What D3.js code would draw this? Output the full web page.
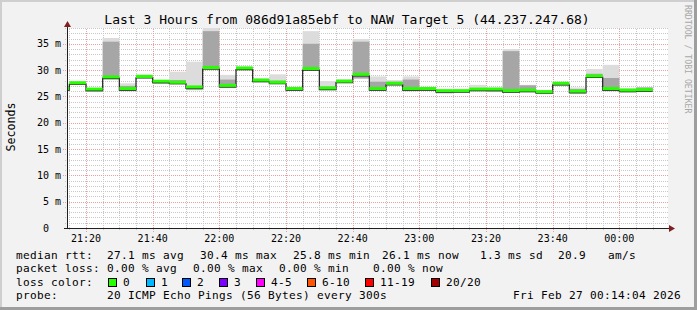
<!DOCTYPE html>
<meta charset="utf-8">
<style>
 body { margin: 0; background: #f2f2f2; }
 svg { display: block; font-family: "DejaVu Sans Mono", monospace; }
 .minor { stroke: #c8c8c8; stroke-width: 1; stroke-dasharray: 1,1; shape-rendering: crispEdges; }
 .major { stroke: #eba0a0; stroke-width: 1; stroke-dasharray: 1,1; shape-rendering: crispEdges; }
 .axis { stroke: #1f1f1f; stroke-width: 1; shape-rendering: crispEdges; }
 .legend { font-size: 11.1px; letter-spacing: 0.32px; }
</style>
<svg id="chart" width="697" height="310"></svg>
<script src="https://cdn.jsdelivr.net/npm/d3@7"></script>
<script>

 // 5 minute bins (start time of each bin)
 var binStart = ["21:10","21:15","21:20","21:25","21:30","21:35","21:40","21:45","21:50","21:55",
                 "22:00","22:05","22:10","22:15","22:20","22:25","22:30","22:35","22:40","22:45",
                 "22:50","22:55","23:00","23:05","23:10","23:15","23:20","23:25","23:30","23:35",
                 "23:40","23:45","23:50","23:55","00:00","00:05"];
 // median rtt (ms)
 var median = [26.4,27.5,26.3,28.6,26.4,28.7,27.8,27.6,26.7,30.4,
               27.0,30.3,28.0,27.6,26.4,30.2,26.5,27.8,29.1,26.4,
               27.4,26.4,26.4,26.0,26.0,26.3,26.3,26.0,26.1,25.8,
               27.4,25.9,28.8,26.4,26.1,26.2];
 // smoke: lowest ping, top of dense smoke, highest ping (ms)
 var pingMin = [26.0,27.2,25.9,28.2,26.0,28.5,27.4,27.3,26.2,30.0,
                26.6,30.0,27.7,27.4,26.1,30.0,26.2,27.6,28.4,26.1,
                27.2,26.0,26.1,25.6,25.8,26.0,25.9,25.7,25.8,25.7,
                27.1,25.5,28.6,26.0,25.8,25.9];
 var smokeTop = [26.9,27.6,26.4,35.4,27.0,29.0,27.9,28.1,27.0,37.4,
                 28.2,30.6,28.3,28.0,26.5,35.0,26.9,28.1,35.4,27.8,
                 27.8,28.2,26.6,26.1,26.1,26.5,26.5,33.6,27.1,26.1,
                 27.6,26.4,29.3,28.5,26.4,26.7];
 var pingMax = [27.0,27.8,26.5,36.1,27.5,29.2,28.0,29.7,31.6,38.0,
                29.1,30.7,28.5,29.2,26.6,37.4,27.9,28.3,35.9,28.8,
                28.1,28.8,26.8,26.2,26.1,27.2,26.7,34.0,27.2,26.2,
                27.8,26.7,30.2,31.0,26.6,26.8];

 var yTicks = [0,5,10,15,20,25,30,35];
 var yTickLabels = ["0","5 m","10 m","15 m","20 m","25 m","30 m","35 m"];

 var lossLabels = ["0","1","2","3","4-5","6-10","11-19","20/20"];
 var lossColors = ["#26ff00","#00b8ff","#0059ff","#7e00ff","#ff00ff","#ff5500","#ff0000","#a10000"];
 var lossX = [108,146,182,219,256,307,365,431];

 var legendRows = [
   [["median rtt:",16],["27.1 ms avg",107],["30.4 ms max",200],["25.8 ms min",293],["26.1 ms now",382],["1.3 ms sd",480],["20.9",558],["am/s",608]],
   [["packet loss:",16],["0.00 % avg",107],["0.00 % max",193],["0.00 % min",279],["0.00 % now",373]],
   [["loss color:",16]],
   [["probe:",16],["20 ICMP Echo Pings (56 Bytes) every 300s",107],["Fri Feb 27 00:14:04 2026",513]]
 ];
 var legendY = [258.5,272,286,299];

 function toDate(s) {
     var p = s.split(":"), h = +p[0];
     return h >= 12 ? new Date(2026,1,26,h,+p[1]) : new Date(2026,1,27,h,+p[1]);
 }

 var svg = d3.select("#chart");

 // frame
 svg.append("rect").attr("width",697).attr("height",310).attr("fill","#f2f2f2");
 svg.append("rect").attr("width",697).attr("height",2).attr("fill","#cfcfcf");
 svg.append("rect").attr("width",2).attr("height",310).attr("fill","#cfcfcf");
 svg.append("rect").attr("x",694).attr("width",3).attr("height",310).attr("fill","#9e9e9e");
 svg.append("rect").attr("y",307).attr("width",697).attr("height",3).attr("fill","#9e9e9e");

 var x = d3.scaleTime()
     .domain([new Date(2026,1,26,21,14,18), new Date(2026,1,27,0,14,18)])
     .range([67,667]);
 var y = d3.scaleLinear().domain([0,38]).range([228,28]);

 svg.append("rect").attr("x",67).attr("y",28).attr("width",601).attr("height",200).attr("fill","#fff");

 // grid
 var g = svg.append("g");
 var minorT = x.ticks(d3.timeMinute.every(5)).filter(function(d){ return d.getMinutes() % 20 != 0; });
 var majorT = x.ticks(d3.timeMinute.every(20));
 g.selectAll(".vmin").data(minorT).enter().append("line").attr("class","minor")
  .attr("x1",function(d){return Math.round(x(d))+0.5;}).attr("x2",function(d){return Math.round(x(d))+0.5;})
  .attr("y1",230).attr("y2",28);
 var hMinor = d3.range(1,39).filter(function(v){ return v % 5 != 0; });
 g.selectAll(".hmin").data(hMinor).enter().append("line").attr("class","minor")
  .attr("x1",65).attr("x2",669)
  .attr("y1",function(d){return Math.round(y(d))+0.5;}).attr("y2",function(d){return Math.round(y(d))+0.5;});
 g.selectAll(".vmaj").data(majorT).enter().append("line").attr("class","major")
  .attr("x1",function(d){return Math.round(x(d))+0.5;}).attr("x2",function(d){return Math.round(x(d))+0.5;})
  .attr("y1",232).attr("y2",28);
 g.selectAll(".hmaj").data(yTicks.slice(1)).enter().append("line").attr("class","major")
  .attr("x1",63).attr("x2",669)
  .attr("y1",function(d){return Math.round(y(d))+0.5;}).attr("y2",function(d){return Math.round(y(d))+0.5;});

 // data
 svg.append("clipPath").attr("id","plot").append("rect").attr("x",67).attr("y",28).attr("width",600).attr("height",200);
 var bins = binStart.map(function(s,i) {
     var t = toDate(s);
     return {t0: t, t1: d3.timeMinute.offset(t,5), med: median[i], lo: pingMin[i], top: smokeTop[i], hi: pingMax[i]};
 });
 var d = svg.append("g").attr("clip-path","url(#plot)");

 d.selectAll(".light").data(bins).enter().append("rect")
  .attr("x",function(b){return x(b.t0);}).attr("width",function(b){return x(b.t1)-x(b.t0);})
  .attr("y",function(b){return y(b.hi);}).attr("height",function(b){return y(b.lo)-y(b.hi);})
  .attr("fill","#dcdcdc");
 d.selectAll(".core").data(bins).enter().append("rect")
  .attr("x",function(b){return x(b.t0);}).attr("width",function(b){return x(b.t1)-x(b.t0);})
  .attr("y",function(b){return y(b.top);}).attr("height",function(b){return y(b.lo)-y(b.top);})
  .attr("fill","#a6a6a6");

 var pts = bins.map(function(b){ return [x(b.t0), y(b.med)+1]; });
 pts.push([x(bins[bins.length-1].t1), y(median[median.length-1])+1]);
 d.append("path").attr("d", d3.line().curve(d3.curveStepAfter)(pts))
  .attr("fill","none").attr("stroke","#202020").attr("stroke-width",1.2);
 d.selectAll(".med").data(bins).enter().append("rect")
  .attr("x",function(b){return x(b.t0);}).attr("width",function(b){return x(b.t1)-x(b.t0);})
  .attr("y",function(b){return y(b.med)-2;}).attr("height",3)
  .attr("fill",lossColors[0]);

 // axes
 svg.append("line").attr("class","axis").attr("x1",67.5).attr("x2",67.5).attr("y1",228).attr("y2",26);
 svg.append("line").attr("class","axis").attr("x1",64).attr("x2",670).attr("y1",228.5).attr("y2",228.5);
 svg.append("path").attr("d","M64,27 L71,27 L67.5,21 Z").attr("fill","#7f1f1f");
 svg.append("path").attr("d","M669,225 L669,232 L675,228.5 Z").attr("fill","#7f1f1f");

 svg.selectAll(".ylab").data(yTicks).enter().append("text")
  .attr("x",function(v,i){ return i == 0 ? 43 : 61; })
  .attr("text-anchor",function(v,i){ return i == 0 ? "start" : "end"; })
  .attr("y",function(v){return y(v)+3.5;})
  .attr("font-size","10px").attr("fill","#000")
  .text(function(v,i){return yTickLabels[i];});

 svg.selectAll(".xlab").data(majorT).enter().append("text")
  .attr("x",function(t){return x(t);}).attr("y",241.5)
  .attr("text-anchor","middle").attr("font-size","10px")
  .text(d3.timeFormat("%H:%M"));

 // titles
 svg.append("text").attr("x",347).attr("y",24).attr("text-anchor","middle").attr("font-size","13px")
  .text("Last 3 Hours from 086d91a85ebf to NAW Target 5 (44.237.247.68)");
 svg.append("text").attr("transform","translate(15,127) rotate(-90)").attr("text-anchor","middle")
  .attr("font-size","11.65px").text("Seconds");
 svg.append("text").attr("transform","translate(685,5) rotate(90)").attr("font-size","8.2px")
  .attr("fill","#a8a8a8").text("RRDTOOL / TOBI OETIKER");

 // legend
 legendRows.forEach(function(row,r) {
     row.forEach(function(item) {
         svg.append("text").attr("class","legend").attr("x",item[1]).attr("y",legendY[r])
            .attr("xml:space","preserve").text(item[0]);
     });
 });
 lossLabels.forEach(function(lab,i) {
     svg.append("rect").attr("x",lossX[i]+0.5).attr("y",278.5).attr("width",8).attr("height",8)
        .attr("fill",lossColors[i]).attr("stroke","#000").attr("stroke-width",1);
     svg.append("text").attr("class","legend").attr("x",lossX[i]+15).attr("y",legendY[2]).text(lab);
 });

</script>
